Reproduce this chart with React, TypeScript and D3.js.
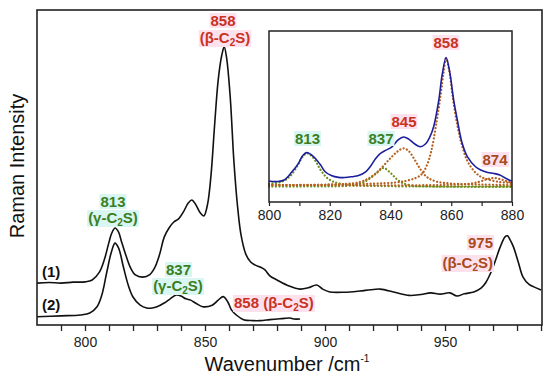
import { useEffect, useRef } from "react"
import * as d3 from "d3"

// main spectra: [wavenumber, intensity (a.u.)]
const spectrum1: [number, number][] = [
    [780, 13.3], [785, 13.5], [790, 13.3], [795, 13.6], [800, 13.7], [803, 14.3], [806, 16.8], [808, 20.6],
    [810, 26.3], [811, 28.9], [812.5, 30.8], [814, 29.5], [815, 27.0], [817, 22.2], [819, 18.1], [821, 15.9],
    [824, 15.2], [827, 16.0], [829, 18.1], [831, 22.2], [833, 27.9], [835, 30.8], [837, 32.7], [839, 33.7],
    [841, 35.9], [843, 38.7], [844.5, 39.7], [846, 38.4], [848, 35.6], [849.5, 34.6], [851, 38.1], [852.5, 47.6],
    [854, 63.5], [855.5, 77.8], [857, 85.7], [858, 88.3], [859, 84.8], [860.5, 72.4], [862, 52.4], [863.5, 38.1],
    [865, 28.6], [867, 22.5], [869, 20.0], [871, 19.0], [873, 18.4], [875, 17.5], [877, 15.6], [880, 14.3],
    [885, 12.4], [889.5, 11.4], [893, 11.8], [896.5, 12.7], [899, 11.4], [902, 10.5], [908, 10.4], [914.5, 10.8],
    [919, 11.2], [923, 11.4], [929, 10.4], [935, 9.4], [940, 9.7], [944, 10.2], [948, 9.8], [952, 10.2],
    [955, 9.2], [958, 9.9], [962, 10.5], [965, 11.7], [967, 13.5], [969, 16.5], [971, 20.5], [973, 24.8],
    [975, 28.0], [976, 28.3], [977, 27.2], [978.5, 24.8], [980.5, 20.0], [982.5, 15.2], [985, 12.9], [987, 12.1],
    [990, 11.1],
]

const spectrum2: [number, number][] = [
    [780, 2.6], [790, 2.9], [798, 3.2], [802, 3.8], [805, 5.8], [807, 9.5], [809, 16.5], [811, 23.2],
    [812.5, 26.0], [814, 24.4], [816, 18.4], [818, 12.7], [820, 8.9], [823, 6.3], [825.7, 5.4], [828, 5.4],
    [830, 5.8], [833, 7.0], [835.5, 8.3], [838, 9.5], [840, 9.2], [842, 8.3], [844, 7.9], [846, 7.0],
    [849, 5.8], [853, 6.3], [855.5, 7.9], [857.6, 9.0], [859.5, 7.3], [861, 4.8], [863, 3.2], [866, 1.7],
    [870, 1.4], [873, 1.4], [877, 1.7], [880, 1.9], [883, 2.1], [885.4, 2.2], [887, 1.9], [889.6, 1.9],
]

// inset: measured spectrum and fitted components
const insetSpectrum: [number, number][] = [
    [800, 12.3], [802, 11.9], [805, 12.9], [807.5, 17.5], [809.7, 22.6], [811, 26.9], [812.4, 28.9], [814, 27.5],
    [815.2, 25.6], [817, 21.6], [818.5, 17.7], [820.5, 15.5], [822.9, 14.4], [825, 14.3], [827.3, 14.8], [829.5, 15.5],
    [831.7, 17.5], [833.5, 21.1], [835, 25.1], [836.5, 28.1], [838, 29.8], [840.5, 32.3], [842.5, 36.3], [844.3, 38.0],
    [846, 36.8], [848, 33.9], [849.8, 32.3], [851.5, 33.9], [853, 38.2], [854.2, 44.0], [855.9, 59.6], [857, 74.3],
    [858.3, 84.5], [859.5, 76.0], [860.8, 59.6], [862, 48.0], [863.6, 34.3], [865.3, 26.5], [868, 20.6], [869.7, 18.7],
    [872, 17.3], [874, 16.7], [876, 15.8], [877.5, 14.3], [879, 12.9], [880, 12.3],
]

const fit813: [number, number][] = [
    [800, 10.8], [804, 11.7], [807, 15.2], [809.5, 21.6], [811, 26.3], [812.5, 28.4], [814, 26.9], [815.5, 23.4],
    [817, 18.7], [819, 14.3], [821, 12.0], [824, 10.5], [828, 9.6], [835, 9.4], [845, 9.1], [880, 9.1],
]
const fit837: [number, number][] = [
    [800, 9.0], [815, 9.1], [825, 9.4], [830, 10.8], [833, 13.5], [835.5, 17.0], [837.7, 19.9], [840, 17.0],
    [842, 13.5], [844, 11.1], [847, 9.6], [852, 9.1], [880, 8.8],
]
const fit845: [number, number][] = [
    [800, 9.9], [820, 10.2], [830, 11.7], [834, 15.2], [837, 19.9], [840, 25.7], [842.5, 29.8], [844.3, 31.4],
    [846, 29.8], [848, 24.6], [850, 18.7], [852, 14.6], [855, 12.0], [860, 10.8], [870, 10.2], [880, 9.9],
]
const fit858: [number, number][] = [
    [800, 9.9], [830, 10.5], [845, 12.3], [850, 15.8], [852, 21.6], [853.5, 30.4], [855, 45.0], [856.5, 62.6],
    [857.5, 76.0], [858.3, 84.0], [859.3, 77.2], [860.5, 61.4], [862, 45.0], [863.5, 33.3], [865.3, 24.0], [867.5, 18.1],
    [869.7, 14.8], [872, 13.2], [876, 11.7], [880, 11.1],
]
const fit874: [number, number][] = [
    [800, 9.9], [855, 9.9], [865, 10.5], [869, 11.7], [871.5, 13.2], [874, 14.0], [876.5, 13.2], [879, 11.7], [880, 11.4],
]

const mainTicks = [790, 800, 810, 820, 830, 840, 850, 860, 870, 880, 890, 900, 910, 920, 930, 940, 950, 960, 970, 980, 990]
const mainTickLabels = [800, 850, 900, 950]
const insetTicks = [800, 810, 820, 830, 840, 850, 860, 870, 880]
const insetTickLabels = [800, 820, 840, 860, 880]

const GREEN = "#3b7f22"
const RED = "#c8321f"
const BROWN = "#a84a1c"
const PINK = "#fde2ee"
const CYAN = "#d9f6f3"
const FONT = "'Liberation Sans', Arial, sans-serif"

type Part = { t: string, sub?: boolean }

export default function App() {
    const ref = useRef<SVGSVGElement>(null)

    useEffect(() => {
        const svg = d3.select(ref.current)
        svg.selectAll("*").remove()

        const x = d3.scaleLinear().domain([780, 990.4]).range([37, 542])
        const y = d3.scaleLinear().domain([0, 100]).range([325, 10])
        const ix = d3.scaleLinear().domain([800, 880]).range([269, 512])
        const iy = d3.scaleLinear().domain([0, 100]).range([202, 31])

        svg.append("rect").attr("width", 550).attr("height", 385).attr("fill", "#fff")

        // main spectra
        const line = d3.line<[number, number]>()
            .x(d => x(d[0]))
            .y(d => y(d[1]))
            .curve(d3.curveCatmullRom.alpha(0.5))

        ;[spectrum1, spectrum2].forEach(s => {
            svg.append("path")
                .datum(s)
                .attr("fill", "none")
                .attr("stroke", "#111")
                .attr("stroke-width", 1.6)
                .attr("d", line)
        })

        // main axis
        const ax = svg.append("g")
            .attr("transform", `translate(0,${y(0)})`)
            .call(d3.axisBottom(x)
                .tickValues(mainTicks)
                .tickSize(6)
                .tickFormat(d => mainTickLabels.includes(+d) ? String(d) : ""))
        ax.select(".domain").remove()
        ax.selectAll("line").attr("stroke", "#222").attr("stroke-width", 1.3)
        ax.selectAll("text")
            .attr("font-family", FONT)
            .attr("font-size", 14)
            .attr("fill", "#222")
            .attr("y", 12)

        svg.append("rect")
            .attr("x", 37).attr("y", 10)
            .attr("width", 505).attr("height", 315)
            .attr("fill", "none")
            .attr("stroke", "#222")
            .attr("stroke-width", 1.6)

        svg.append("text")
            .attr("x", 287).attr("y", 371)
            .attr("text-anchor", "middle")
            .attr("font-family", FONT)
            .attr("font-size", 20)
            .attr("fill", "#111")
            .text("Wavenumber /cm")
            .append("tspan")
            .attr("dy", -9)
            .attr("font-size", 10)
            .text("-1")

        svg.append("text")
            .attr("transform", "translate(24,166) rotate(-90)")
            .attr("text-anchor", "middle")
            .attr("font-family", FONT)
            .attr("font-size", 20)
            .attr("fill", "#111")
            .text("Raman Intensity")

        // inset
        const inset = svg.append("g")
        inset.append("rect")
            .attr("x", 269).attr("y", 31)
            .attr("width", 243).attr("height", 171)
            .attr("fill", "#fff")

        const iline = d3.line<[number, number]>()
            .x(d => ix(d[0]))
            .y(d => iy(d[1]))
            .curve(d3.curveCatmullRom.alpha(0.5))

        const fits: [[number, number][], string][] = [
            [fit813, "#6f8f1e"], [fit837, "#6f8f1e"], [fit845, "#b5601f"], [fit858, "#b5601f"], [fit874, "#b5601f"],
        ]
        fits.forEach(([s, c]) => {
            inset.append("path")
                .datum(s)
                .attr("fill", "none")
                .attr("stroke", c)
                .attr("stroke-width", 2.2)
                .attr("stroke-linecap", "round")
                .attr("stroke-dasharray", "0.1 3.4")
                .attr("d", iline)
        })

        inset.append("path")
            .datum(insetSpectrum)
            .attr("fill", "none")
            .attr("stroke", "#1c1f9c")
            .attr("stroke-width", 1.6)
            .attr("d", iline)

        const iax = inset.append("g")
            .attr("transform", `translate(0,${iy(0)})`)
            .call(d3.axisBottom(ix)
                .tickValues(insetTicks)
                .tickSize(4)
                .tickFormat(d => insetTickLabels.includes(+d) ? String(d) : ""))
        iax.select(".domain").remove()
        iax.selectAll("line").attr("stroke", "#222").attr("stroke-width", 1.2)
        iax.selectAll("text")
            .attr("font-family", FONT)
            .attr("font-size", 14)
            .attr("fill", "#222")
            .attr("y", 8)

        inset.append("rect")
            .attr("x", 269).attr("y", 31)
            .attr("width", 243).attr("height", 171)
            .attr("fill", "none")
            .attr("stroke", "#222")
            .attr("stroke-width", 1.5)

        // labels with coloured highlight
        const label = (px: number, py: number, parts: Part[], color: string, bg: string | null, anchor = "middle") => {
            const g = svg.append("g")
            const t = g.append("text")
                .attr("x", px).attr("y", py)
                .attr("text-anchor", anchor)
                .attr("font-family", FONT)
                .attr("font-size", 15)
                .attr("font-weight", "bold")
                .attr("fill", color)
            let shifted = false
            parts.forEach(p => {
                const ts = t.append("tspan").text(p.t)
                if (p.sub) {
                    ts.attr("font-size", 10).attr("dy", 3)
                    shifted = true
                } else if (shifted) {
                    ts.attr("dy", -3)
                    shifted = false
                }
            })
            if (bg) {
                const b = (t.node() as SVGTextElement).getBBox()
                g.insert("rect", "text")
                    .attr("x", b.x - 1).attr("y", b.y + 1)
                    .attr("width", b.width + 2).attr("height", b.height - 2)
                    .attr("fill", bg)
            }
        }
        const cs = (open: string): Part[] => [{ t: `(${open}-C` }, { t: "2", sub: true }, { t: "S)" }]

        label(223, 26, [{ t: "858" }], RED, PINK)
        label(225, 43, cs("β"), RED, PINK)
        label(113, 207, [{ t: "813" }], GREEN, CYAN)
        label(113, 223, cs("γ"), GREEN, CYAN)
        label(178.5, 275, [{ t: "837" }], GREEN, CYAN)
        label(178, 291, cs("γ"), GREEN, CYAN)
        label(234, 308, [{ t: "858 (β-C" }, { t: "2", sub: true }, { t: "S)" }], RED, PINK, "start")
        label(493, 248, [{ t: "975" }], BROWN, PINK, "end")
        label(493, 268, cs("β"), BROWN, PINK, "end")
        label(42, 277, [{ t: "(1)" }], "#111", null, "start")
        label(42, 310, [{ t: "(2)" }], "#111", null, "start")

        label(307.5, 144, [{ t: "813" }], GREEN, CYAN)
        label(381, 144, [{ t: "837" }], GREEN, CYAN)
        label(404, 127, [{ t: "845" }], RED, PINK)
        label(446, 48, [{ t: "858" }], RED, PINK)
        label(495, 165, [{ t: "874" }], BROWN, PINK)
    }, [])

    return (
        <div style={{ position: "fixed", left: 0, top: 0, width: 550, height: 385 }}>
            <svg ref={ref} width={550} height={385} />
        </div>
    )
}
